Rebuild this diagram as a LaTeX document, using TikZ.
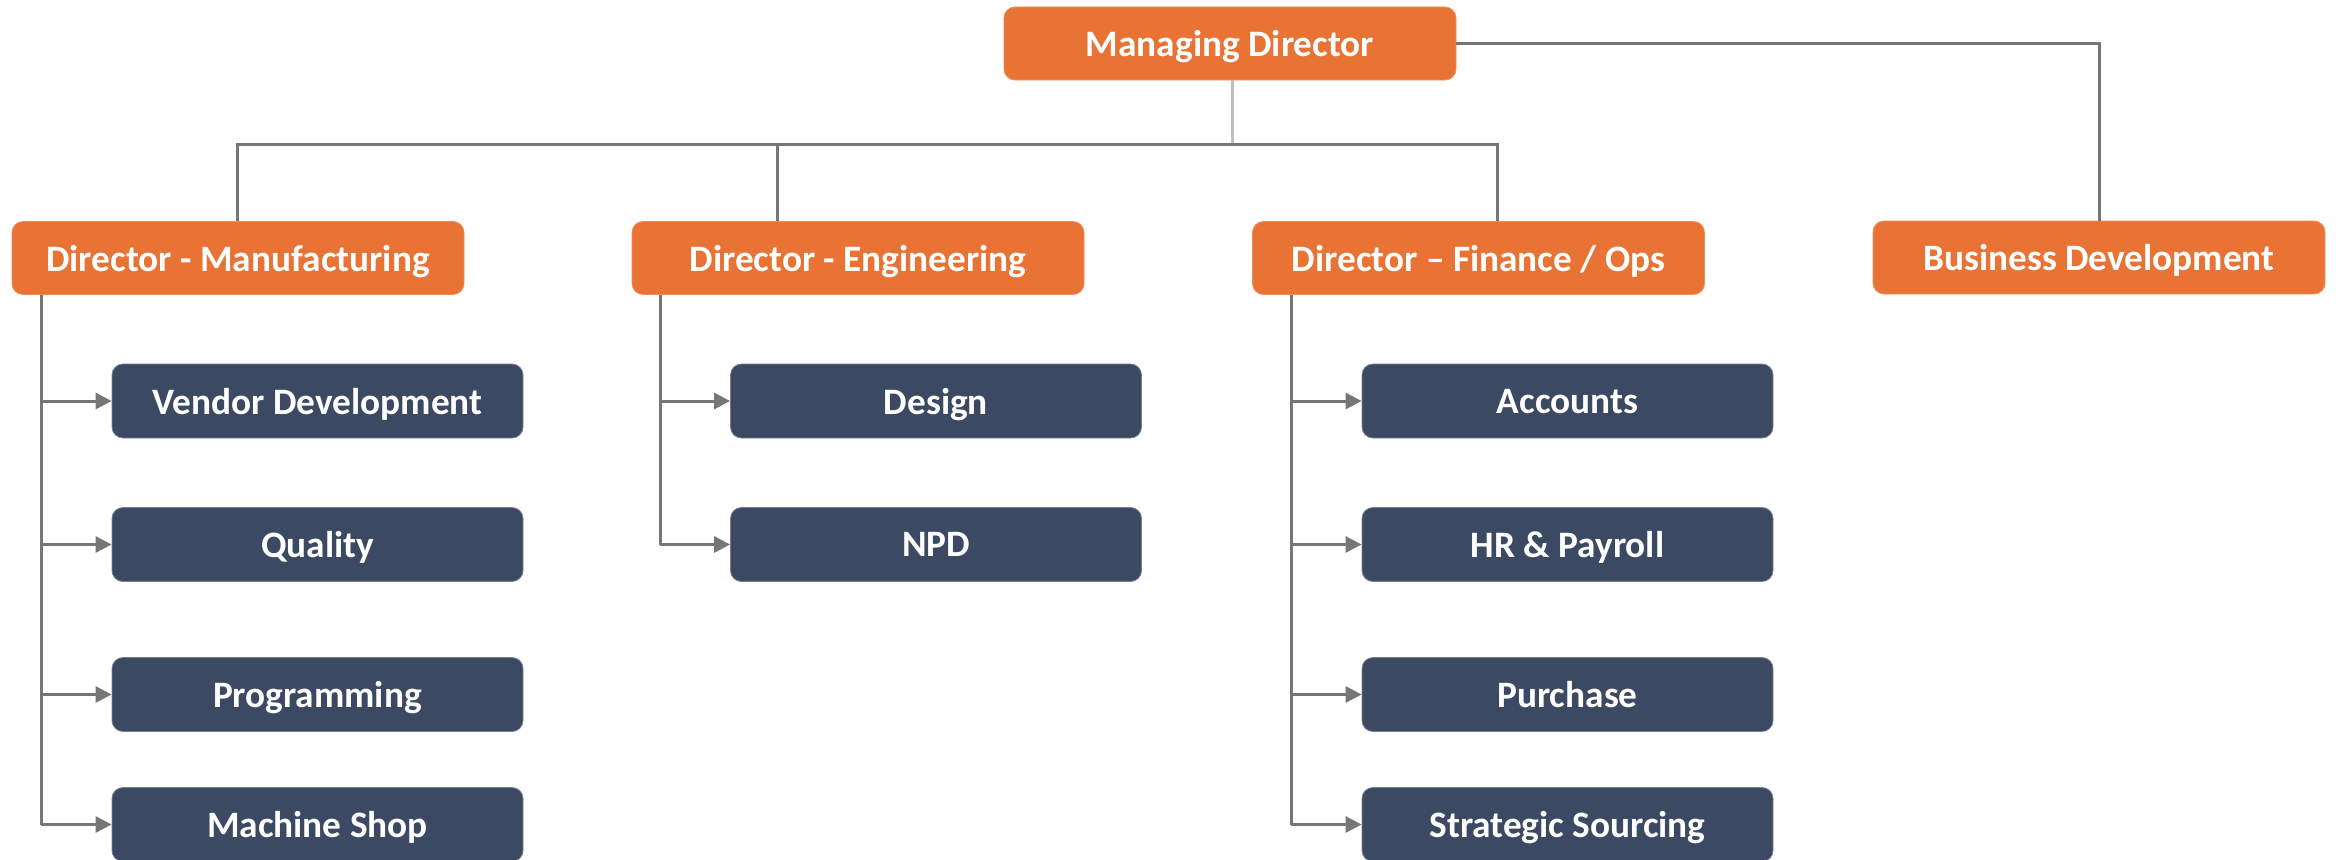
\documentclass[tikz,border=0pt]{standalone}
\usepackage{fontspec}
\setmainfont{Carlito}
\usetikzlibrary{arrows.meta}
\definecolor{orgfill}{RGB}{233,115,52}
\definecolor{navyfill}{RGB}{59,73,98}
\definecolor{connc}{RGB}{118,118,118}
\definecolor{stemc}{RGB}{192,192,192}
\tikzset{
  topbox/.style={rectangle, rounded corners=11pt, fill=orgfill, draw=orgfill!80!white, line width=0.8pt,
    minimum width=452pt, minimum height=73pt, inner sep=0pt, text=white, text depth=0pt,
    font=\fontsize{37.3}{44}\selectfont\bfseries},
  subbox/.style={rectangle, rounded corners=11pt, fill=navyfill, draw=navyfill!70!white, line width=0.8pt,
    minimum width=411pt, minimum height=74pt, inner sep=0pt, text=white, text depth=0pt,
    font=\fontsize{37.3}{44}\selectfont\bfseries},
  conn/.style={draw=connc, line width=3pt},
  stemline/.style={draw=stemc, line width=3pt},
  arr/.style={conn, -{Triangle[length=16pt,width=16pt]}}
}
\begin{document}
\begin{tikzpicture}[x=1pt,y=-1pt]
\useasboundingbox (0,0) rectangle (2336,859);
% top level
\node[topbox] (MD) at (1230,43.5) {Managing Director};
\node[topbox] (DM) at (238,258) {Director - Manufacturing};
\node[topbox] (DE) at (858,258) {Director - Engineering};
\node[topbox] (DF) at (1478.5,258) {Director – Finance / Ops};
\node[topbox] (BD) at (2099,257.5) {Business Development};
% manufacturing
\node[subbox] (VD) at (317.5,401) {Vendor Development};
\node[subbox] (QU) at (317.5,544.5) {Quality};
\node[subbox] (PR) at (317.5,694.5) {Programming};
\node[subbox] (MS) at (317.5,824.5) {Machine Shop};
% engineering
\node[subbox] (DS) at (936,401) {Design};
\node[subbox] (NP) at (936,544.5) {NPD};
% finance
\node[subbox] (AC) at (1567.5,401) {Accounts};
\node[subbox] (HR) at (1567.5,544.5) {HR \& Payroll};
\node[subbox] (PU) at (1567.5,694.5) {Purchase};
\node[subbox] (SS) at (1567.5,824.5) {Strategic Sourcing};
% bar coordinates
\coordinate (barL) at (237,144);
\coordinate (barE) at (777,144);
\coordinate (barR) at (1497,144);
\coordinate (mv) at (41,0);
\coordinate (ev) at (660,0);
\coordinate (fv) at (1291,0);
% connectors top
\draw[conn] (barL |- DM.north) -- (barL) -- (barR) -- (barR |- DF.north);
\draw[conn] (barE) -- (barE |- DE.north);
\draw[stemline] (MD.south -| 1232,0) -- (1232,142.5);
\draw[conn] (MD.east) -| (BD.north);
% manufacturing branches
\draw[conn] (mv |- DM.south) -- (mv |- MS.west);
\draw[arr] (mv |- VD.west) -- (VD.west);
\draw[arr] (mv |- QU.west) -- (QU.west);
\draw[arr] (mv |- PR.west) -- (PR.west);
\draw[arr] (mv |- MS.west) -- (MS.west);
% engineering branches
\draw[conn] (ev |- DE.south) -- (ev |- NP.west);
\draw[arr] (ev |- DS.west) -- (DS.west);
\draw[arr] (ev |- NP.west) -- (NP.west);
% finance branches
\draw[conn] (fv |- DF.south) -- (fv |- SS.west);
\draw[arr] (fv |- AC.west) -- (AC.west);
\draw[arr] (fv |- HR.west) -- (HR.west);
\draw[arr] (fv |- PU.west) -- (PU.west);
\draw[arr] (fv |- SS.west) -- (SS.west);
\end{tikzpicture}
\end{document}
